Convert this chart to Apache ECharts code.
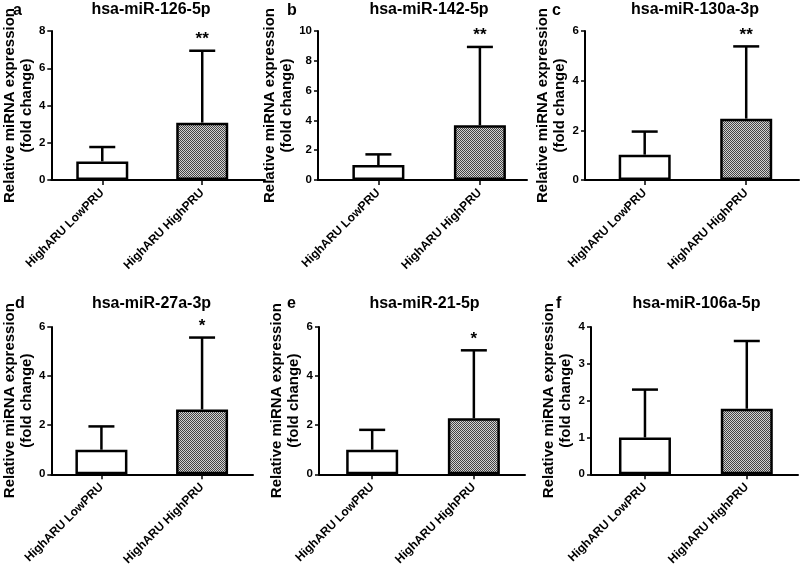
<!DOCTYPE html>
<html><head><meta charset="utf-8">
<script src="https://cdn.jsdelivr.net/npm/echarts@6/dist/echarts.min.js"></script>
<style>html,body{margin:0;padding:0;background:#fff}#c{width:800px;height:568px}</style>
</head><body><div id="c"></div>
<script>
// ---- data ----
const categories = ['HighARU LowPRU', 'HighARU HighPRU'];
const panelLetters = ['a', 'b', 'c', 'd', 'e', 'f'];
const panelTitles = ['hsa-miR-126-5p', 'hsa-miR-142-5p', 'hsa-miR-130a-3p', 'hsa-miR-27a-3p', 'hsa-miR-21-5p', 'hsa-miR-106a-5p'];
const mean126 = [1.00, 3.08]; const sd126 = [0.77, 3.86];
const mean142 = [1.00, 3.67]; const sd142 = [0.72, 5.26];
const mean130a = [1.02, 2.47]; const sd130a = [0.93, 2.91];
const mean27a = [1.00, 2.64]; const sd27a = [0.95, 2.93];
const mean21 = [1.00, 2.28]; const sd21 = [0.81, 2.77];
const mean106a = [1.00, 1.78]; const sd106a = [1.30, 1.84];
const significance = ['**', '**', '**', '*', '*', ''];
const yMaxes = [8, 10, 6, 6, 6, 4];
const yIntervals = [2, 2, 2, 2, 2, 1];
const yAxisName = 'Relative miRNA expression\n(fold change)';

const means = [mean126, mean142, mean130a, mean27a, mean21, mean106a];
const sds = [sd126, sd142, sd130a, sd27a, sd21, sd106a];

// ---- layout (positions only) ----
const gridBoxes = [
  {left: 48, top: 31, width: 217, height: 149, xmin: -0.51, xmax: 1.628, titleX: 151, titleY: 2, letterX: 13, letterY: 3},
  {left: 318, top: 31, width: 209, height: 149, xmin: -0.595, xmax: 1.464, titleX: 429, titleY: 2, letterX: 287, letterY: 3},
  {left: 585, top: 31, width: 214, height: 149, xmin: -0.588, xmax: 1.520, titleX: 695, titleY: 2, letterX: 552, letterY: 3},
  {left: 49, top: 327, width: 204, height: 148, xmin: -0.498, xmax: 1.506, titleX: 151.5, titleY: 296, letterX: 15, letterY: 296},
  {left: 319, top: 327, width: 206, height: 148, xmin: -0.523, xmax: 1.503, titleX: 424.5, titleY: 296, letterX: 287, letterY: 296},
  {left: 591, top: 327, width: 207, height: 148, xmin: -0.530, xmax: 1.503, titleX: 696.5, titleY: 296, letterX: 556, letterY: 296}
];

const FONT = '"Liberation Sans", Arial, sans-serif';

// checkered fill pattern
const pc = document.createElement('canvas');
pc.width = 2; pc.height = 2;
const g = pc.getContext('2d');
g.fillStyle = '#d2d2d2'; g.fillRect(0, 0, 2, 2);
g.fillStyle = '#444444'; g.fillRect(0, 0, 1, 1); g.fillRect(1, 1, 1, 1);
const patternFill = {image: pc, repeat: 'repeat'};

const grids = [], xAxes = [], yAxes = [], series = [], titles = [];
gridBoxes.forEach((b, i) => {
  grids.push({left: b.left, top: b.top, width: b.width, height: b.height, containLabel: false});
  xAxes.push({
    gridIndex: i, type: 'value', min: b.xmin, max: b.xmax,
    splitLine: {show: false},
    axisLine: {show: true, onZero: false, lineStyle: {color: '#000', width: 2}},
    axisTick: {show: true, customValues: [0, 1], length: 5, lineStyle: {color: '#000', width: 1.5}},
    axisLabel: {customValues: [0, 1], formatter: v => categories[Math.round(v)] || '', rotate: 45, margin: 11,
      color: '#000', fontWeight: 'bold', fontSize: 12, fontFamily: FONT}
  });
  yAxes.push({
    gridIndex: i, type: 'value', min: 0, max: yMaxes[i], interval: yIntervals[i],
    splitLine: {show: false},
    axisLine: {show: true, onZero: false, lineStyle: {color: '#000', width: 2}},
    axisTick: {show: true, length: 4, lineStyle: {color: '#000', width: 1.5}},
    axisLabel: {margin: 6, color: '#000', fontWeight: 'bold', fontSize: 11.5, fontFamily: FONT},
    name: yAxisName, nameLocation: 'middle', nameGap: 11,
    nameTextStyle: {color: '#000', fontWeight: 'bold', fontSize: 15, lineHeight: 17, fontFamily: FONT}
  });
  const m = means[i], s = sds[i];
  series.push({
    type: 'bar', xAxisIndex: i, yAxisIndex: i, barWidth: 52, silent: true,
    data: m.map((v, k) => ({value: [k, v], itemStyle: {color: k === 0 ? '#fff' : patternFill, borderColor: '#000', borderWidth: 2.5}}))
  });
  series.push({
    type: 'custom', xAxisIndex: i, yAxisIndex: i, silent: true, z: 3,
    data: m.map((v, k) => [k, v, s[k]]),
    renderItem: (params, api) => {
      const x = api.value(0), mv = api.value(1), sv = api.value(2);
      const p0 = api.coord([x, mv]); const p1 = api.coord([x, mv + sv]);
      const st = {stroke: '#000', lineWidth: 2.5};
      return {type: 'group', children: [
        {type: 'line', shape: {x1: p0[0], y1: p0[1], x2: p1[0], y2: p1[1]}, style: st},
        {type: 'line', shape: {x1: p1[0] - 13, y1: p1[1], x2: p1[0] + 13, y2: p1[1]}, style: st}
      ]};
    }
  });
  if (significance[i]) {
    series.push({
      type: 'custom', xAxisIndex: i, yAxisIndex: i, silent: true, z: 4,
      data: [[1, m[1] + s[1]]],
      renderItem: (params, api) => {
        const p = api.coord([api.value(0), api.value(1)]);
        return {type: 'text', x: p[0], y: p[1] - 3, style: {text: significance[i], textAlign: 'center', textVerticalAlign: 'bottom',
          font: 'bold 17px ' + FONT, fill: '#000'}};
      }
    });
  }
  titles.push({text: panelTitles[i], left: b.titleX, top: b.titleY, textAlign: 'center', padding: 0,
    textStyle: {color: '#000', fontWeight: 'bold', fontSize: 16, fontFamily: FONT}});
  titles.push({text: panelLetters[i], left: b.letterX, top: b.letterY, padding: 0,
    textStyle: {color: '#000', fontWeight: 'bold', fontSize: 16, fontFamily: FONT}});
});

const chart = echarts.init(document.getElementById('c'), null, {renderer: 'canvas'});
chart.setOption({
  backgroundColor: '#fff', animation: false,
  title: titles, grid: grids, xAxis: xAxes, yAxis: yAxes, series: series
});
</script></body></html>
